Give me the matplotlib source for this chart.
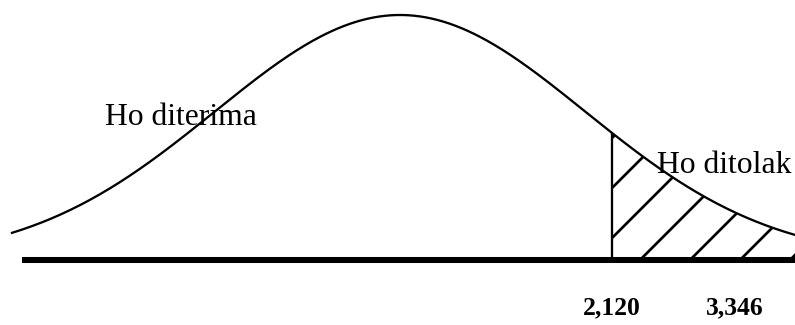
import matplotlib.pyplot as plt
import numpy as np

plt.rcParams['font.family'] = 'Liberation Serif'
plt.rcParams['hatch.linewidth'] = 1.3

# critical value and test statistic (t)
t_values = [2.120, 3.346]
t_labels = ["2,120", "3,346"]
region_labels = ["Ho diterima", "Ho ditolak"]

# bell curve shape (schematic)
mu = 0.0
sigma = 1.85
peak = 245.

def bell(t):
    return peak*np.exp(-(t - mu)**2/(2*sigma**2))

fig = plt.figure(figsize=(5.3, 2.1667), dpi=150)
ax = fig.add_axes([0, 0, 1, 1])

t = np.linspace(-3.88, 3.95, 400)
ax.plot(t, bell(t), color="black", linewidth=1.1)

# rejection region
tr = np.linspace(t_values[0], 3.95, 200)
ax.fill_between(tr, 0, bell(tr), facecolor="none", edgecolor="black", hatch="/", linewidth=0)
ax.vlines(t_values[0], 0, bell(t_values[0]), color="black", linewidth=1.1)

# thick baseline
ax.plot([-3.78, 3.95], [0, 0], color="black", linewidth=2.9, solid_capstyle="butt")

ax.text(-2.95, 135, region_labels[0], fontsize=15.2, ha="left", va="baseline")
ax.text(2.57, 87, region_labels[1], fontsize=15.2, ha="left", va="baseline")

for v, lab in zip(t_values, t_labels):
    ax.text(v, -48, lab, fontsize=12.3, fontweight="bold", ha="center", va="center")

ax.set_xlim(-4.0, 3.95)
ax.set_ylim(-65, 260)
ax.axis("off")

plt.savefig("out.png", dpi=150)
